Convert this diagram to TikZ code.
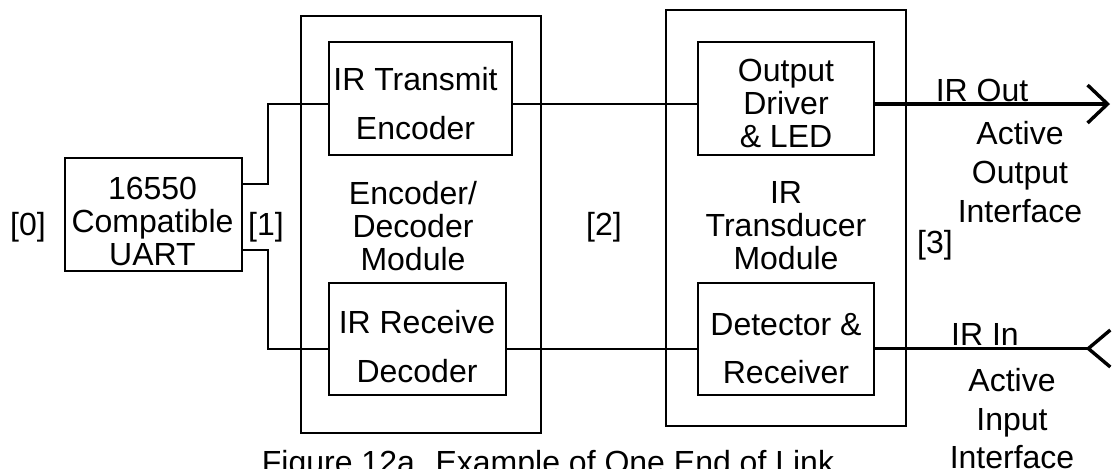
\documentclass[tikz,border=0pt]{standalone}
\usepackage{fontspec}
\setmainfont{Liberation Sans}
\usepackage{tikz}
\usetikzlibrary{arrows.meta}
\tikzstyle{box} = [draw, line width=1pt, inner sep=0pt]
\tikzstyle{lbl} = [inner sep=0pt, align=center, font=\fontsize{16}{16.5}\selectfont]
\tikzstyle{wire} = [line width=1pt]
\tikzstyle{link} = [line width=1.7pt]

\begin{document}
\begin{tikzpicture}[x=0.5pt, y=-0.5pt]
    \useasboundingbox (0,0) rectangle (1112,468);

    % outer modules
    \node[box, minimum width=120pt, minimum height=208.5pt] (encmod) at (421,224.5) {};
    \node[box, minimum width=120pt, minimum height=208pt] (trmod) at (786,218) {};

    \node[box, minimum width=88.5pt, minimum height=56.5pt] (uart) at (153.5,214.5) {};
    \node[box, minimum width=91.5pt, minimum height=56.5pt] (tx) at (420.5,98.5) {};
    \node[box, minimum width=88.5pt, minimum height=56pt] (rx) at (417.5,339) {};
    \node[box, minimum width=88pt, minimum height=56.5pt] (drv) at (786,98.5) {};
    \node[box, minimum width=88pt, minimum height=56pt] (det) at (786,339) {};

    \node[lbl] (uarttxt) at (152.5,221.5) {16550\\Compatible\\UART};
    \node[lbl] (txtxt) at (415.5,103.5) {IR Transmit\\[8pt]Encoder};
    \node[lbl] (rxtxt) at (417,347) {IR Receive\\[8pt]Decoder};
    \node[lbl] (drvtxt) at (786,103.5) {Output\\Driver\\\& LED};
    \node[lbl] (dettxt) at (786,349) {Detector \&\\[7.5pt]Receiver};
    \node[lbl] (enctxt) at (413,226) {Encoder/\\Decoder\\Module};
    \node[lbl] (trtxt) at (786,226) {IR\\Transducer\\Module};

    % interface numbers
    \node[lbl] (n0) at (28,227) {[0]};
    \node[lbl] (n1) at (266,227) {[1]};
    \node[lbl] (n2) at (604,227) {[2]};
    \node[lbl] (n3) at (935,245) {[3]};

    % wires
    \draw[wire] ([yshift=15.25pt]uart.east) -| (268,150) |- ([yshift=-2.75pt]tx.west);
    \draw[wire] ([yshift=-17.75pt]uart.east) -| (268,300) |- ([yshift=-4.75pt]rx.west);
    \draw[wire] ([yshift=-2.75pt]tx.east) -- ([yshift=-2.75pt]drv.west);
    \draw[wire] ([yshift=-4.75pt]rx.east) -- ([yshift=-4.75pt]det.west);

    % IR links
    \coordinate (outend) at (1110,104);
    \coordinate (inend) at (1112,348.5);
    \draw[link, -{Straight Barb[length=10pt, width=19pt]}] ([yshift=-2.75pt]drv.east) -- (outend);
    \draw[link, -{Straight Barb[reversed, length=11pt, width=18.5pt]}] ([yshift=-4.75pt]det.east) -- (inend);

    \node[lbl, anchor=base] (irout) at (982,101) {IR Out};
    \node[lbl, anchor=north, font=\fontsize{16}{19.5}\selectfont] (outif) at (1020,121) {Active\\Output\\Interface};
    \node[lbl, anchor=base] (irin) at (985,345) {IR In};
    \node[lbl, anchor=north, font=\fontsize{16}{19.25}\selectfont] (inif) at (1012,368) {Active\\Input\\Interface};

    \node[lbl, anchor=north] (caption) at (548,450) {Figure 12a. Example of One End of Link};
\end{tikzpicture}
\end{document}
